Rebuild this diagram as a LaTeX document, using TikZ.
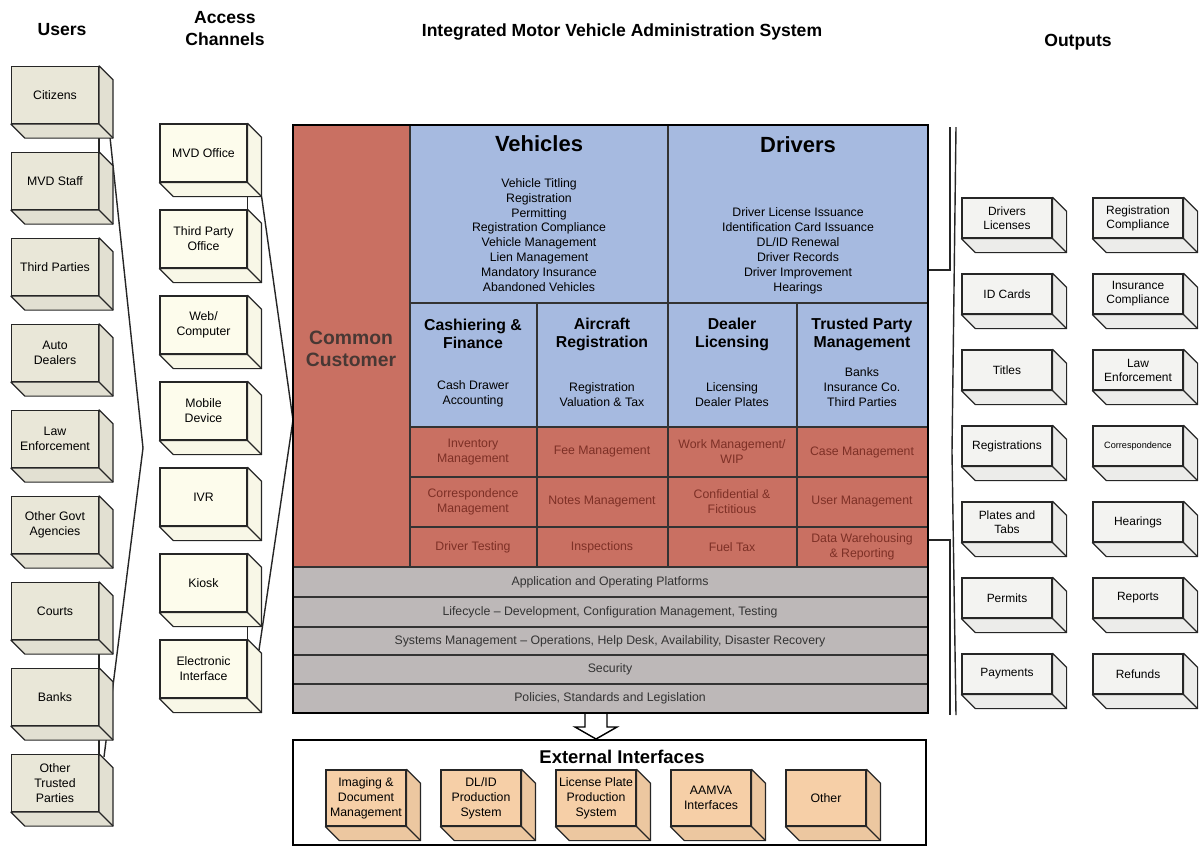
\documentclass[tikz,border=0pt]{standalone}
\usepackage{fontspec}
\setmainfont{Liberation Sans}
\usetikzlibrary{calc,backgrounds}

\definecolor{redcell}{RGB}{201,112,98}
\definecolor{bluecell}{RGB}{166,186,224}
\definecolor{greycell}{RGB}{189,184,184}
\definecolor{redtext}{RGB}{125,48,38}
\definecolor{commontext}{RGB}{72,56,52}
\definecolor{userfill}{RGB}{233,231,216}
\definecolor{chanfill}{RGB}{253,252,236}
\definecolor{outfill}{RGB}{243,243,241}
\definecolor{extfill}{RGB}{246,207,167}

% side and bottom faces of a box node
\newcommand{\cubeside}[2]{%
  \filldraw[fill=#2,draw=black!85,line width=0.7pt,line join=round]
    (#1.north east) -- ++(14,14) -- ($(#1.south east)+(14,14)$)
    -- ($(#1.south west)+(14,14)$) -- (#1.south west) -- (#1.south east) -- cycle;
  \draw[black!85,line width=0.7pt] (#1.south east) -- ++(14,14);
}

\begin{document}
\begin{tikzpicture}[x=0.02cm,y=-0.02cm,
  boxbase/.style={draw=black!85,line width=0.7pt,inner sep=1pt,align=center,
    font=\fontsize{7}{8.5}\selectfont},
  ubox/.style={boxbase,fill=userfill,minimum width=1.74cm,minimum height=1.14cm},
  abox/.style={boxbase,fill=chanfill,minimum width=1.74cm,minimum height=1.16cm},
  obox/.style={boxbase,fill=outfill,minimum width=1.8cm,minimum height=0.8cm,
    font=\fontsize{6.8}{8}\selectfont},
  ebox/.style={boxbase,fill=extfill,minimum width=1.6cm,minimum height=1.12cm},
  title/.style={font=\bfseries\fontsize{10}{12.5}\selectfont,align=center},
  bighead/.style={font=\bfseries\fontsize{12.5}{15}\selectfont},
  head/.style={font=\bfseries\fontsize{9}{10.2}\selectfont,align=center},
  item/.style={font=\fontsize{7}{8.5}\selectfont,align=center},
  redtxt/.style={item,text=redtext},
  greytxt/.style={item,text=black!80},
  grid/.style={draw=black!80,line width=0.8pt},
  brace/.style={draw=black!85,line width=0.8pt}]

\useasboundingbox (0,0) rectangle (1201,846);

% headings
\node[title] (tusers) at (62,30) {Users};
\node[title] (tchan) at (225,29) {Access\\Channels};
\node[title] (tsys) at (622,32) {Integrated Motor Vehicle Administration System};
\node[title] (tout) at (1078,42) {Outputs};

% users
\foreach \txt [count=\i] in {Citizens,MVD Staff,Third Parties,Auto\\Dealers,
  Law\\Enforcement,Other Govt\\Agencies,Courts,Banks,Other\\Trusted\\Parties}
{
  \node[ubox] (u\i) at (55,{95+86*(\i-1)}) {\txt};
  \cubeside{u\i}{userfill!97!black}
}

% access channels
\foreach \txt [count=\i] in {MVD Office,Third Party\\Office,Web/\\Computer,
  Mobile\\Device,IVR,Kiosk,Electronic\\Interface}
{
  \node[abox] (a\i) at (203.5,{153+86*(\i-1)}) {\txt};
  \cubeside{a\i}{chanfill!98!black}
}

% outputs
\foreach \txt [count=\i] in {Drivers\\Licenses,ID Cards,Titles,Registrations,
  Plates and\\Tabs,Permits,Payments}
{
  \node[obox] (o\i) at (1007,{218+76*(\i-1)}) {\txt};
  \cubeside{o\i}{outfill!97!black}
}
\foreach \txt [count=\i] in {Registration\\Compliance,Insurance\\Compliance,
  Law\\Enforcement,{\fontsize{5.2}{6}\selectfont Correspondence},Hearings,Reports,Refunds}
{
  \node[obox] (p\i) at (1138,{218+76*(\i-1)}) {\txt};
  \cubeside{p\i}{outfill!97!black}
}

% main system
\fill[redcell] (293,125) rectangle (928,567);
\fill[bluecell] (410,125) rectangle (928,427);
\fill[greycell] (293,567) rectangle (928,713);
\draw[grid] (410,125) -- (410,567);
\draw[grid] (668,125) -- (668,567);
\foreach \x in {537,797}
  \draw[grid] (\x,303) -- (\x,567);
\foreach \y in {303,427,477,527}
  \draw[grid] (410,\y) -- (928,\y);
\foreach \y in {567,597,627,655,684}
  \draw[grid] (293,\y) -- (928,\y);
\draw[line width=1pt] (293,125) rectangle (928,713);

\node[font=\bfseries\fontsize{11}{12.5}\selectfont,align=center,text=commontext]
  (cust) at (351,349) {Common\\Customer};

\node[bighead] (veh) at (539,144) {Vehicles};
\node[item] (vehlist) at (539,235) {Vehicle Titling\\Registration\\Permitting\\
  Registration Compliance\\Vehicle Management\\Lien Management\\
  Mandatory Insurance\\Abandoned Vehicles};
\node[bighead] (drv) at (798,145) {Drivers};
\node[item] (drvlist) at (798,251) {Driver License Issuance\\
  Identification Card Issuance\\DL/ID Renewal\\Driver Records\\
  Driver Improvement\\Hearings};

\foreach \x/\hd/\sub [count=\k] in {
  473/{Cashiering \&\\Finance}/{Cash Drawer\\Accounting},
  602/{Aircraft\\Registration}/{Registration\\Valuation \& Tax},
  732/{Dealer\\Licensing}/{Licensing\\Dealer Plates},
  862/{Trusted Party\\Management}/{Banks\\Insurance Co.\\Third Parties}}
{
  \node[head] (h\k) at (\x,334) {\hd};
  \node[item,anchor=south] (s\k) at (\x,413) {\sub};
}

\foreach \y/\a/\b/\c/\d [count=\r] in {
  452/{Inventory\\Management}/{Fee Management}/{Work Management/\\WIP}/{Case Management},
  502/{Correspondence\\Management}/{Notes Management}/{Confidential \&\\Fictitious}/{User Management},
  547/{Driver Testing}/{Inspections}/{Fuel Tax}/{Data Warehousing\\\& Reporting}}
{
  \node[redtxt] (r\r a) at (473,\y) {\a};
  \node[redtxt] (r\r b) at (602,\y) {\b};
  \node[redtxt] (r\r c) at (732,\y) {\c};
  \node[redtxt] (r\r d) at (862,\y) {\d};
}

\foreach \y/\txt [count=\k] in {
  582/{Application and Operating Platforms},
  612/{Lifecycle – Development, Configuration Management, Testing},
  641/{Systems Management – Operations, Help Desk, Availability, Disaster Recovery},
  669.5/{Security},
  698.5/{Policies, Standards and Legislation}}
  \node[greytxt] (g\k) at (610,\y) {\txt};

% hollow arrow down to the interfaces
\filldraw[fill=white,line width=0.8pt,line join=miter]
  (585,714) -- (585,727) -- (575,727) -- (596,739) -- (617,727) -- (607,727) -- (607,714);

% external interfaces
\draw[line width=0.7pt] (293,740) rectangle (926,845);
\node[font=\bfseries\fontsize{10.5}{12}\selectfont] (ext) at (622,757) {External Interfaces};
\foreach \x/\txt [count=\i] in {366/{Imaging \&\\Document\\Management},
  481/{DL/ID\\Production\\System},596/{License Plate\\Production\\System},
  711/{AAMVA\\Interfaces},826/{Other}}
{
  \node[ebox] (e\i) at (\x,798) {\txt};
  \cubeside{e\i}{extfill!96!black}
}

% brackets
\begin{scope}[on background layer]
\draw[brace] (u1.south east) -- (u2.north east);
\draw[brace] (u7.south east) -- (u9.north east);
\coordinate (utip) at (143,448);
\draw[brace] (110,137) -- (utip) -- (104,757);
\draw[brace] (a1.south east) -- (a2.north east);
\draw[brace] (a6.south east) -- (a7.north east);
\coordinate (atip) at (293,420);
\draw[brace] ($(a1.south east)+(14,14)$) -- (atip) -- (259,650);
\draw[brace] (928,270) -- (950,270) -- (950,127);
\draw[brace] (928,540) -- (950,540) -- (950,715);
\coordinate (otip) at (952,452);
\draw[brace] (956,127) -- (otip) -- (956,715);
\end{scope}
\end{tikzpicture}
\end{document}
